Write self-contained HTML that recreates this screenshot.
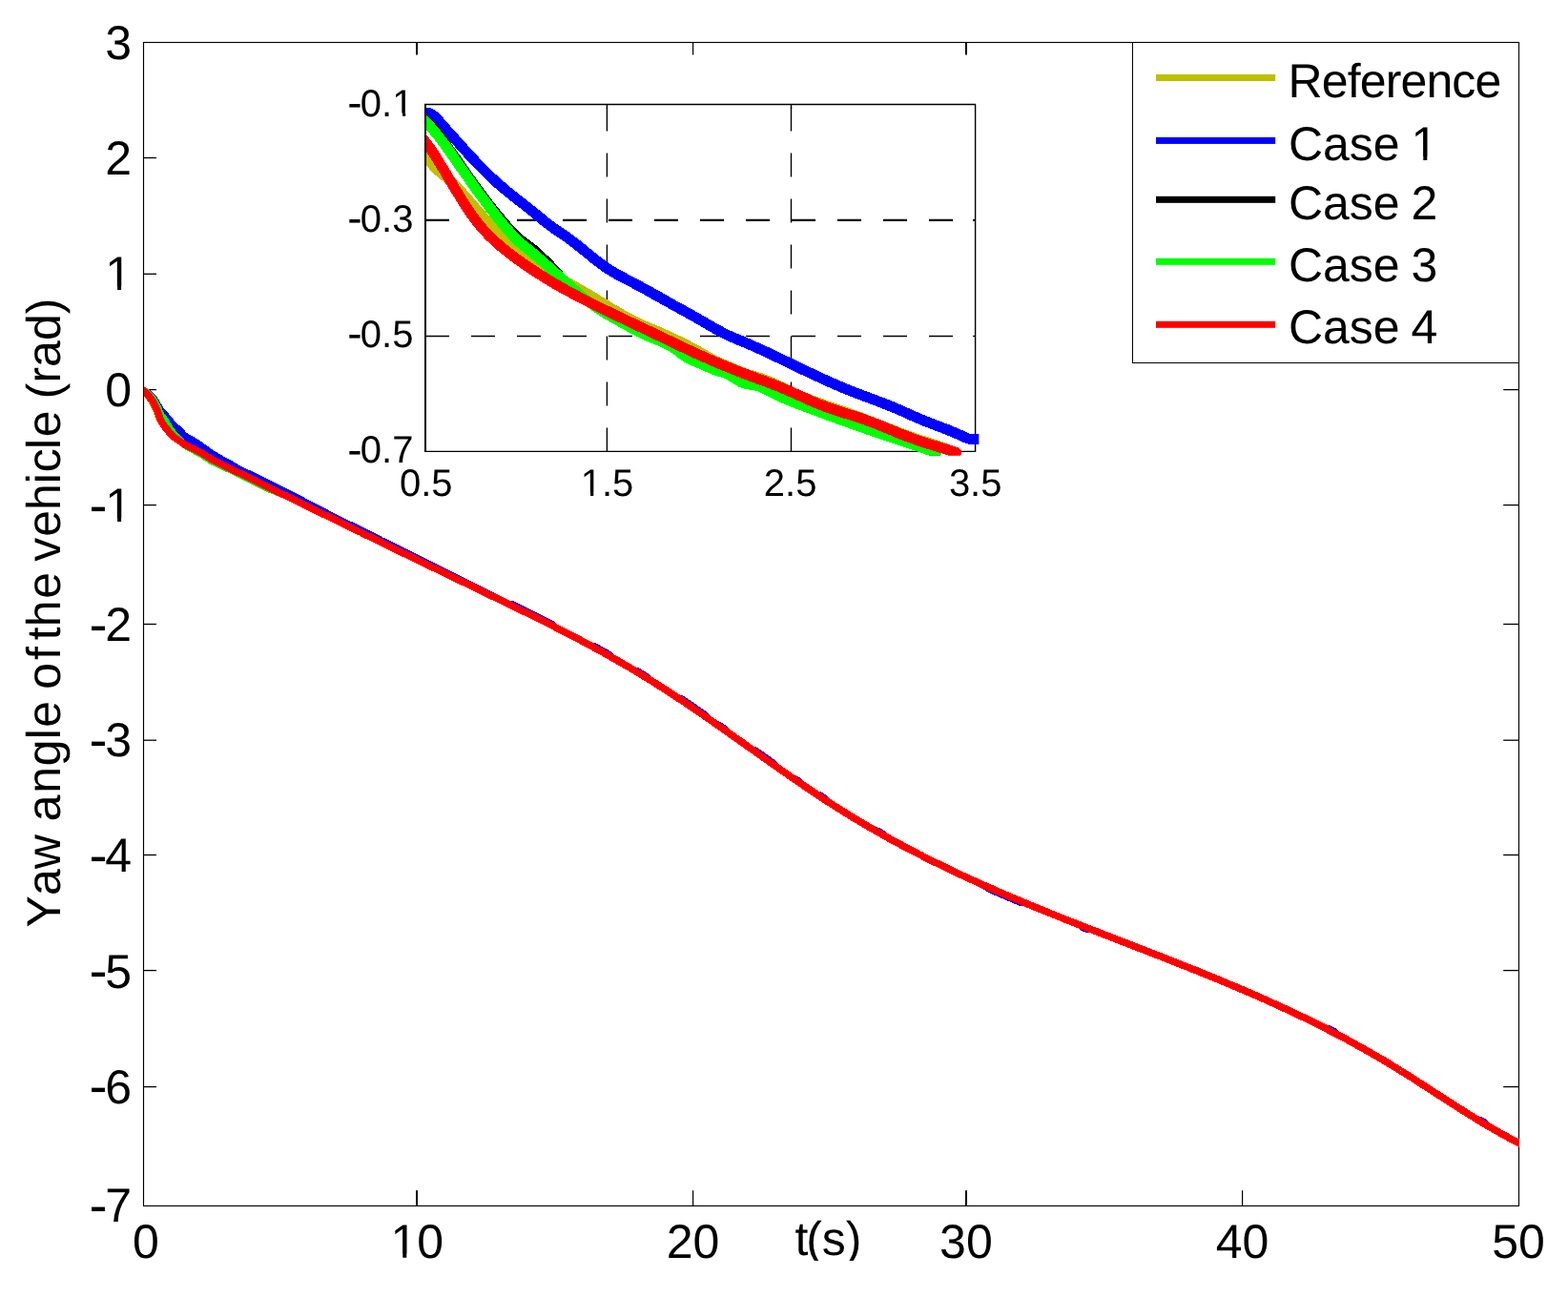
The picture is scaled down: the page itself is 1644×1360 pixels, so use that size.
<!DOCTYPE html>
<html lang="en">
<head>
<meta charset="utf-8">
<title>Yaw angle of the vehicle</title>
<style>
html,body{margin:0;padding:0;background:#fff;}
body{width:1644px;height:1360px;overflow:hidden;}
svg text{font-family:"Liberation Sans",Arial,Helvetica,sans-serif;font-kerning:none;font-variant-ligatures:none;text-rendering:geometricPrecision;}
</style>
</head>
<body>
<svg width="1644" height="1360" viewBox="0 0 1644 1360" style="display:block" font-family="'Liberation Sans', Arial, Helvetica, sans-serif" fill="#000">
<rect x="0" y="0" width="1644" height="1360" fill="#fff"/>
<defs><clipPath id="one1"><rect x="-489.71" y="204.00" width="1200.00" height="96.11"/><rect x="-489.71" y="299.86" width="603.01" height="54.14"/><rect x="136.46" y="299.86" width="573.83" height="54.14"/><rect x="123.07" y="299.86" width="4.02" height="4.34"/><rect x="-489.71" y="304.60" width="1200.00" height="49.40"/></clipPath><clipPath id="one2"><rect x="-489.71" y="447.00" width="1200.00" height="96.11"/><rect x="-489.71" y="542.86" width="603.01" height="54.14"/><rect x="136.46" y="542.86" width="573.83" height="54.14"/><rect x="123.07" y="542.86" width="4.02" height="4.34"/><rect x="-489.71" y="547.60" width="1200.00" height="49.40"/></clipPath><clipPath id="one3"><rect x="-190.51" y="1218.60" width="1200.00" height="96.11"/><rect x="-190.51" y="1314.46" width="603.01" height="54.14"/><rect x="435.66" y="1314.46" width="573.83" height="54.14"/><rect x="422.27" y="1314.46" width="4.02" height="4.34"/><rect x="-190.51" y="1319.20" width="1200.00" height="49.40"/></clipPath><clipPath id="one4"><rect x="-188.38" y="40.40" width="1200.00" height="78.02"/><rect x="-188.38" y="118.17" width="602.29" height="44.03"/><rect x="433.02" y="118.17" width="578.60" height="44.03"/><rect x="422.03" y="118.17" width="3.19" height="3.63"/><rect x="-188.38" y="122.20" width="1200.00" height="40.00"/></clipPath><clipPath id="one5"><rect x="8.68" y="438.60" width="1200.00" height="78.02"/><rect x="8.68" y="516.37" width="602.29" height="44.03"/><rect x="630.08" y="516.37" width="578.60" height="44.03"/><rect x="619.09" y="516.37" width="3.19" height="3.63"/><rect x="8.68" y="520.40" width="1200.00" height="40.00"/></clipPath><clipPath id="one6"><rect x="879.52" y="67.90" width="1200.00" height="96.11"/><rect x="879.52" y="163.76" width="603.01" height="54.14"/><rect x="1505.68" y="163.76" width="573.83" height="54.14"/><rect x="1492.29" y="163.76" width="4.02" height="4.34"/><rect x="879.52" y="168.50" width="1200.00" height="49.40"/></clipPath></defs>
<g stroke="#000" stroke-width="1.15" fill="none">
<rect x="150.5" y="44.5" width="1442.0" height="1220.0"/>
<line x1="437.0" y1="1264.5" x2="437.0" y2="1248.2" stroke-width="2.0"/>
<line x1="437.0" y1="44.5" x2="437.0" y2="57.5" stroke-width="2.0"/>
<line x1="726.6" y1="1264.5" x2="726.6" y2="1248.2" stroke-width="1.2"/>
<line x1="726.6" y1="44.5" x2="726.6" y2="57.5" stroke-width="1.2"/>
<line x1="1013.0" y1="1264.5" x2="1013.0" y2="1248.2" stroke-width="2.0"/>
<line x1="1013.0" y1="44.5" x2="1013.0" y2="57.5" stroke-width="2.0"/>
<line x1="1302.6" y1="1264.5" x2="1302.6" y2="1248.2" stroke-width="1.2"/>
<line x1="1302.6" y1="44.5" x2="1302.6" y2="57.5" stroke-width="1.2"/>
<line x1="150.5" y1="165.5" x2="164.0" y2="165.5" stroke-width="1.3"/>
<line x1="1592.5" y1="165.5" x2="1576.2" y2="165.5" stroke-width="1.3"/>
<line x1="150.5" y1="287.3" x2="164.0" y2="287.3" stroke-width="1.3"/>
<line x1="1592.5" y1="287.3" x2="1576.2" y2="287.3" stroke-width="1.3"/>
<line x1="150.5" y1="408.6" x2="164.0" y2="408.6" stroke-width="1.3"/>
<line x1="1592.5" y1="408.6" x2="1576.2" y2="408.6" stroke-width="1.3"/>
<line x1="150.5" y1="529.6" x2="164.0" y2="529.6" stroke-width="1.3"/>
<line x1="1592.5" y1="529.6" x2="1576.2" y2="529.6" stroke-width="1.3"/>
<line x1="150.5" y1="654.5" x2="164.0" y2="654.5" stroke-width="1.3"/>
<line x1="1592.5" y1="654.5" x2="1576.2" y2="654.5" stroke-width="1.3"/>
<line x1="150.5" y1="776.2" x2="164.0" y2="776.2" stroke-width="1.3"/>
<line x1="1592.5" y1="776.2" x2="1576.2" y2="776.2" stroke-width="1.3"/>
<line x1="150.5" y1="896.5" x2="164.0" y2="896.5" stroke-width="1.3"/>
<line x1="1592.5" y1="896.5" x2="1576.2" y2="896.5" stroke-width="1.3"/>
<line x1="150.5" y1="1017.6" x2="164.0" y2="1017.6" stroke-width="1.3"/>
<line x1="1592.5" y1="1017.6" x2="1576.2" y2="1017.6" stroke-width="1.3"/>
<line x1="150.5" y1="1139.6" x2="164.0" y2="1139.6" stroke-width="1.3"/>
<line x1="1592.5" y1="1139.6" x2="1576.2" y2="1139.6" stroke-width="1.3"/>
</g>
<clipPath id="mclip"><rect x="151" y="40" width="1442" height="1230"/></clipPath>
<g fill="none" stroke-width="7.6" stroke-linejoin="round" stroke-linecap="butt" clip-path="url(#mclip)" shape-rendering="crispEdges">
<path d="M145.5,405.2 L150.5,409.6 L151.0,410.0 L151.5,410.5 L152.0,411.0 L152.5,411.6 L153.0,412.2 L153.5,412.8 L154.0,413.4 L154.5,414.1 L155.0,414.7 L155.5,415.4 L156.0,416.1 L156.5,416.9 L157.0,417.6 L157.5,418.4 L158.0,419.2 L158.5,420.0 L159.0,420.8 L159.5,421.7 L160.0,422.5 L160.5,423.5 L161.0,424.4 L161.5,425.4 L162.0,426.4 L162.5,427.5 L163.0,428.6 L163.5,429.7 L164.0,430.9 L164.5,432.1 L165.0,433.3 L165.5,434.8 L166.0,436.1 L166.5,437.3 L167.0,438.4 L167.5,439.3 L168.0,440.1 L168.5,440.7 L169.0,441.1 L169.5,441.6 L170.0,442.0 L170.5,442.5 L171.0,443.0 L171.5,443.5 L172.0,444.0 L172.5,444.5 L173.0,445.1 L173.5,445.7 L174.0,446.3 L174.5,446.9 L175.0,447.6 L175.5,448.2 L176.0,448.9 L176.5,449.5 L177.0,450.2 L177.5,450.9 L178.0,451.5 L178.5,452.1 L179.0,452.8 L179.5,453.4 L180.0,453.9 L180.5,454.5 L181.0,455.0 L181.5,455.5 L182.0,456.0 L182.5,456.4 L183.0,456.8 L183.5,457.2 L184.0,457.6 L184.5,457.9 L185.0,458.2 L185.5,458.6 L186.0,458.9 L186.5,459.3 L187.0,459.7 L187.5,460.0 L188.0,460.4 L188.5,460.8 L189.0,461.2 L189.5,461.6 L190.0,462.0 L190.5,462.3 L191.0,462.7 L191.5,463.1 L192.0,463.5 L192.5,464.0 L193.0,464.3 L193.5,464.7 L194.0,465.1 L194.5,465.5 L195.0,465.8 L195.5,466.2 L196.0,466.5 L196.5,466.8 L197.0,467.1 L197.5,467.4 L198.0,467.7 L198.5,467.9 L199.0,468.2 L199.5,468.4 L200.0,468.6 L200.5,468.8 L201.0,469.0 L201.5,469.2 L202.0,469.4 L202.5,469.6 L203.0,469.8 L203.5,470.0 L204.0,470.2 L204.5,470.5 L205.0,470.7 L205.5,471.0 L206.0,471.2 L206.5,471.5 L207.0,471.8 L207.5,472.1 L208.0,472.5 L208.5,472.8 L209.0,473.2 L209.5,473.5 L210.0,473.9 L210.5,474.2 L211.0,474.6 L211.5,474.9 L212.0,475.2 L212.5,475.5 L213.0,475.8 L213.5,476.1 L214.0,476.5 L214.5,476.8 L215.0,477.1 L215.5,477.4 L216.0,477.7 L216.5,478.0 L217.0,478.3 L217.5,478.5 L218.0,478.8 L218.5,479.1 L219.0,479.4 L219.5,479.8 L220.0,480.1 L220.5,480.5 L221.0,480.9 L221.5,481.2 L222.0,481.5 L222.5,481.9 M223.5,482.4 L224.0,482.7 L224.5,482.9 L225.0,483.1 L225.5,483.3 L226.0,483.6 L226.5,483.8 L227.0,484.0 L227.5,484.2 L228.0,484.5 L228.5,484.7 L229.0,484.9 L229.5,485.2 L230.0,485.4 L230.5,485.7 L231.0,486.0 L231.5,486.2 L232.0,486.5 L232.5,486.8 L233.0,487.0 L233.5,487.3 L234.0,487.6 L234.5,487.8 L235.0,488.1 L235.5,488.3 L236.0,488.6 L236.5,488.8 L237.0,489.0 L237.5,489.3 L238.0,489.5 L238.5,489.7 L239.0,490.0 L239.5,490.2 L240.0,490.4 L240.5,490.7 L241.0,490.9 L241.5,491.1 L242.0,491.4 L242.5,491.6 L243.0,491.9 L243.5,492.1 L244.0,492.4 L244.5,492.6 L245.0,492.9 L245.5,493.1 L246.0,493.4 L246.5,493.7 L247.0,494.0 L247.5,494.3 L248.0,494.7 L248.5,495.1 L249.0,495.5 L249.5,495.9 L250.0,496.4 L250.5,496.9 L251.0,497.5 L251.5,497.7 L252.0,497.9 L252.5,498.2 L253.0,498.4 L253.5,498.6 L254.0,498.8 L254.5,499.0 L255.0,499.3 L255.5,499.5 L256.0,499.7 L256.5,499.9 L257.0,500.1 L257.5,500.3 L258.0,500.6 L258.5,500.8 L259.0,501.0 L259.5,501.2 L260.0,501.4 L262.7,502.6 L265.4,503.8 L268.1,505.0 L270.7,506.1 L273.4,507.3 L276.1,508.5 L278.8,509.7 L281.5,510.9 L284.2,512.2 L286.9,513.5" stroke="#bfbf00"/>
<path d="M145.5,408.2 L150.5,409.6 L151.0,409.7 L151.5,409.9 L152.0,410.1 L152.5,410.4 L153.0,410.6 L153.5,410.9 L154.0,411.3 L154.5,411.6 L155.0,412.0 L155.5,412.4 L156.0,412.8 L156.5,413.2 L157.0,413.6 L157.5,414.1 L158.0,414.6 L158.5,415.1 L159.0,415.6 L159.5,416.1 L160.0,416.7 L160.5,417.3 L161.0,418.0 L161.5,418.7 L162.0,419.4 L162.5,420.1 L163.0,420.9 L163.5,421.7 L164.0,422.6 L164.5,423.5 L165.0,424.4 L165.5,424.9 L166.0,425.7 L166.5,426.7 L167.0,427.8 L167.5,428.9 L168.0,429.8 L168.5,430.6 L169.0,431.2 L169.5,431.8 L170.0,432.3 L170.5,432.8 L171.0,433.3 L171.5,433.8 L172.0,434.2 L172.5,434.7 L173.0,435.2 L173.5,435.8 L174.0,436.3 L174.5,436.9 L175.0,437.5 L175.5,438.1 L176.0,438.7 L176.5,439.3 L177.0,439.9 L177.5,440.5 L178.0,441.1 L178.5,441.7 L179.0,442.3 L179.5,442.9 L180.0,443.5 L180.5,444.0 L181.0,444.6 L181.5,445.1 L182.0,445.7 L182.5,446.2 L183.0,446.7 L183.5,447.2 L184.0,447.7 L184.5,448.1 L185.0,448.5 L185.5,448.9 L186.0,449.3 L186.5,449.7 L187.0,450.2 L187.5,450.6 L188.0,451.1 L188.5,451.6 L189.0,452.2 L189.5,452.7 L190.0,453.2 L190.5,453.8 L191.0,454.3 L191.5,454.9 L192.0,455.4 L192.5,455.9 L193.0,456.4 L193.5,456.8 L194.0,457.2 L194.5,457.6 L195.0,457.9 L195.5,458.2 L196.0,458.6 L196.5,458.8 L197.0,459.1 L197.5,459.4 L198.0,459.7 L198.5,460.0 L199.0,460.3 L199.5,460.6 L200.0,460.8 L200.5,461.1 L201.0,461.4 L201.5,461.7 L202.0,462.0 L202.5,462.3 L203.0,462.6 L203.5,462.9 L204.0,463.2 L204.5,463.4 L205.0,463.7 L205.5,464.0 L206.0,464.3 L206.5,464.6 L207.0,464.9 L207.5,465.3 L208.0,465.6 L208.5,465.9 L209.0,466.3 L209.5,466.7 L210.0,467.1 L210.5,467.4 L211.0,467.8 L211.5,468.2 L212.0,468.6 L212.5,468.9 L213.0,469.3 L213.5,469.6 L214.0,469.9 L214.5,470.2 L215.0,470.6 L215.5,470.9 L216.0,471.3 L216.5,471.7 L217.0,472.0 L217.5,472.4 L218.0,472.8 L218.5,473.1 L219.0,473.5 L219.5,473.9 L220.0,474.3 L220.5,474.6 L221.0,475.0 L221.5,475.3 L222.0,475.6 L222.5,475.9 L223.0,476.3 L223.5,476.5 L224.0,476.8 L224.5,477.1 L225.0,477.4 L225.5,477.7 L226.0,478.0 L226.5,478.3 L227.0,478.6 L227.5,478.8 L228.0,479.2 L228.5,479.5 L229.0,479.8 L229.5,480.1 L230.0,480.4 L230.5,480.7 L231.0,481.0 L231.5,481.3 L232.0,481.6 L232.5,481.9 L233.0,482.2 L233.5,482.5 L234.0,482.7 L234.5,483.0 L235.0,483.2 L235.5,483.5 L236.0,483.7 L236.5,483.9 L237.0,484.1 L237.5,484.4 L238.0,484.6 L238.5,484.9 L239.0,485.1 L239.5,485.4 L240.0,485.7 L240.5,486.0 L241.0,486.3 L241.5,486.6 L242.0,486.9 L242.5,487.2 L243.0,487.5 L243.5,487.8 L244.0,488.1 L244.5,488.4 L245.0,488.7 L245.5,488.9 L246.0,489.2 L246.5,489.5 L247.0,489.8 L247.5,490.2 L248.0,490.5 L248.5,490.8 L249.0,491.1 L249.5,491.5 L250.0,491.8 L250.5,492.0 L251.0,492.2 L251.5,492.4 L252.0,492.6 L252.5,492.9 L253.0,493.1 L253.5,493.3 L254.0,493.6 L254.5,493.8 L255.0,494.1 L255.5,494.3 L256.0,494.6 L256.5,494.8 L257.0,495.0 L257.5,495.3 L258.0,495.5 L258.5,495.8 L259.0,496.0 L259.5,496.3 L260.0,496.5 L262.7,497.8 L265.4,499.1 L268.1,500.4 L270.7,501.7 L273.4,503.0 L276.1,504.3 L278.8,505.6 L281.5,506.9 L284.2,508.2 L286.9,509.6 L289.5,510.9 L292.2,512.2 L294.9,513.5 L297.6,514.9 L300.3,516.3 L303.0,517.7 L305.7,519.1 L308.3,520.5 L311.0,521.9 L313.7,523.3 L316.4,524.7 L319.1,526.1 L321.8,527.5 L324.4,528.9 L327.1,530.3 L329.8,531.7 L332.5,533.1 L335.2,534.5 L337.9,535.8 L340.6,537.2 L343.2,538.6 L345.9,540.0 L348.6,541.3 L351.3,542.7 L354.0,544.1 L356.7,545.4 L359.4,546.7 L362.0,548.1 L364.7,549.4 L367.4,550.7 L370.1,552.0 L372.8,553.4 L375.5,554.7 L378.2,556.0 L380.8,557.4 L383.5,558.7 L386.2,560.0 L388.9,561.4 L391.6,562.7 L394.3,564.1 L397.0,565.4 L399.6,566.8 L402.3,568.1 L405.0,569.5 L407.7,570.8 L410.4,572.2 L413.1,573.5 L415.8,574.8 L418.4,576.2 L421.1,577.5 L423.8,578.9 L426.5,580.2 L429.2,581.5 L431.9,582.8 L434.5,584.2 L437.2,585.5 L439.9,586.8 L442.6,588.1 L445.3,589.5 L448.0,590.8 L450.7,592.1 L453.3,593.4 L456.0,594.7 L458.7,596.1 L461.4,597.4 L464.1,598.7 L466.8,600.0 L469.5,601.4 L472.1,602.7 L474.8,604.1 L477.5,605.5 L480.2,606.8 L482.9,608.2 L485.6,609.5 L488.3,610.9 L490.9,612.3 L493.6,613.6 L496.3,615.0 L499.0,616.3 L501.7,617.7 L504.4,619.0 L507.1,620.4 L509.7,621.7 L512.4,623.0 L515.1,624.4 L517.8,625.7 L520.5,627.1 L523.2,628.4 L525.9,629.8 L528.5,631.1 L531.2,632.4 L533.9,633.7 L536.6,633.7 L539.3,635.0 L542.0,636.3 L544.6,637.6 L547.3,638.9 L550.0,640.2 L552.7,641.5 L555.4,642.9 L558.1,644.2 L560.8,645.5 L563.4,646.9 L566.1,648.2 L568.8,649.5 L571.5,650.9 L574.2,652.2 L576.9,653.6 L579.6,655.0 L582.2,657.6 L584.9,659.0 L587.6,660.4 M614.5,674.4 L617.2,675.9 L619.8,677.3 L622.5,677.6 L625.2,679.0 L627.9,680.5 L630.6,682.0 L633.3,683.5 L636.0,685.0 L638.6,686.5 L641.3,689.2 L644.0,690.7 L646.7,692.2 M660.1,700.0 L662.8,701.6 L665.5,703.2 L668.2,703.8 L670.9,705.4 L673.5,707.1 L676.2,708.7 L678.9,710.4 L681.6,713.0 L684.3,714.7 L687.0,716.4 M705.8,728.5 L708.5,730.3 L711.1,732.1 L713.8,732.5 L716.5,734.3 L719.2,736.1 L721.9,738.0 L724.6,739.8 L727.3,741.6 L729.9,743.5 L732.6,745.3 L735.3,747.1 L738.0,749.0 L740.7,752.2 L743.4,754.0 L746.1,755.9 L748.7,757.8 L751.4,759.7 L754.1,760.5 L756.8,762.4 L759.5,764.3 L762.2,767.2 L764.8,769.1 L767.5,771.0 M783.6,782.4 L786.3,784.3 L789.0,786.2 L791.7,786.9 L794.4,788.8 L797.1,790.7 L799.8,792.6 L802.4,794.5 L805.1,796.4 L807.8,798.3 L810.5,800.2 L813.2,803.3 L815.9,805.2 L818.6,807.1 M826.6,812.7 L829.3,814.6 L832.0,816.4 L834.7,817.3 L837.4,819.1 L840.0,821.9 L842.7,823.8 L845.4,825.6 M850.8,829.2 L853.5,831.0 L856.2,832.8 L858.8,833.6 L861.5,835.3 L864.2,837.1 L866.9,839.9 L869.6,841.6 L872.3,843.3 M912.5,867.9 L915.2,869.5 L917.9,871.0 L920.6,871.6 L923.3,873.1 L926.0,874.6 L928.7,877.1 L931.3,878.6 L934.0,880.1 M1028.0,926.7 L1030.7,927.9 L1033.4,929.1 L1036.1,931.6 L1038.8,932.7 L1041.4,933.9 L1044.1,935.1 L1046.8,936.3 L1049.5,937.4 L1052.2,938.6 L1054.9,939.7 L1057.6,940.9 L1060.2,942.0 L1062.9,943.2 L1065.6,944.3 L1068.3,945.4 L1071.0,946.6 L1073.7,946.4 L1076.4,947.5 L1079.0,948.6 M1127.4,968.1 L1130.1,969.2 L1132.7,970.2 L1135.4,972.5 L1138.1,973.5 L1140.8,974.6 L1143.5,974.4 L1146.2,975.5 L1148.9,976.5 M1385.2,1076.0 L1387.9,1077.3 L1390.5,1078.7 L1393.2,1078.9 L1395.9,1080.3 L1398.6,1081.7 L1401.3,1084.3 L1404.0,1085.7 L1406.7,1087.1 M1543.6,1170.7 L1546.3,1172.3 L1549.0,1174.0 L1551.7,1174.4 L1554.3,1176.0 L1557.0,1177.6 L1559.7,1180.4 L1562.4,1182.0 L1565.1,1183.6" stroke="#0000ff"/>
<path d="M145.5,407.6 L150.5,409.6 L151.0,409.8 L151.5,410.0 L152.0,410.3 L152.5,410.6 L153.0,410.9 L153.5,411.3 L154.0,411.7 L154.5,412.1 L155.0,412.5 L155.5,413.0 L156.0,413.4 L156.5,413.9 L157.0,414.4 L157.5,414.9 L158.0,415.5 L158.5,416.0 L159.0,416.6 L159.5,417.2 L160.0,417.8 L160.5,418.5 L161.0,419.2 L161.5,420.0 L162.0,420.7 L162.5,421.6 L163.0,422.4 L163.5,423.3 L164.0,424.2 L164.5,425.1 L165.0,426.1 L165.5,427.2 L166.0,428.3 L166.5,429.6 L167.0,430.8 L167.5,432.0 L168.0,433.1 L168.5,434.1 L169.0,434.9 L169.5,435.7 L170.0,436.4 L170.5,437.1 L171.0,437.8 L171.5,438.5 L172.0,439.2 L172.5,439.9 L173.0,440.6 L173.5,441.4 L174.0,442.1 L174.5,442.9 L175.0,443.7 L175.5,444.5 L176.0,445.4 L176.5,446.2 L177.0,447.0 L177.5,447.9 L178.0,448.7 L178.5,449.5 L179.0,450.2 L179.5,450.9 L180.0,451.5 L180.5,452.1 L181.0,452.6 L181.5,453.1 L182.0,453.6 L182.5,454.2 L183.0,454.8 L183.5,455.4 L184.0,455.9 L184.5,456.5 L185.0,457.2 L185.5,457.9 L186.0,458.6 L186.5,459.3 L187.0,459.9 L187.5,460.5 L188.0,461.0 L188.5,461.6 L189.0,462.2 L189.5,462.7 L190.0,463.3 L190.5,463.8 L191.0,464.3 L191.5,464.8 L192.0,465.3 L192.5,465.7 L193.0,466.1 L193.5,466.5 L194.0,466.9 L194.5,467.2 L195.0,467.6 L195.5,467.9 L196.0,468.2 L196.5,468.5 L197.0,468.8 L197.5,469.1 L198.0,469.4 L198.5,469.7 L199.0,470.0 L199.5,470.2 L200.0,470.4 L200.5,470.6 L201.0,470.8 L201.5,471.0 L202.0,471.1 L202.5,471.4 L203.0,471.6 L203.5,471.9 L204.0,472.2 L204.5,472.6 L205.0,473.0 L205.5,473.4 L206.0,473.8 L206.5,474.1 L207.0,474.4 L207.5,474.6 L208.0,474.8 L208.5,475.0 L209.0,475.3 L209.5,475.6 L210.0,475.9 L210.5,476.2 L211.0,476.4 L211.5,476.6 L212.0,476.9 L212.5,477.2 L213.0,477.6 L213.5,478.0 L214.0,478.5 L214.5,478.9 L215.0,479.3 L215.5,479.5 L216.0,479.7 L216.5,479.9 L217.0,480.1 L217.5,480.3 L218.0,480.7 L218.5,481.1 L219.0,481.5 L219.5,481.9 L220.0,482.3 L220.5,482.7 L221.0,483.0 L221.5,483.3 L222.0,483.6 L222.5,483.8 L223.0,484.1 L223.5,484.3 L224.0,484.5 L224.5,484.7 L225.0,485.0 L225.5,485.2 L226.0,485.4 L226.5,485.6 L227.0,485.8 L227.5,486.1 L228.0,486.3 L228.5,486.6 L229.0,486.8 L229.5,487.1 L230.0,487.4 L230.5,487.6 L231.0,487.9 L231.5,488.2 L232.0,488.5 L232.5,488.7 L233.0,489.0 L233.5,489.2 L234.0,489.5 L234.5,489.7 L235.0,489.9 L235.5,490.1 L236.0,490.4 L236.5,490.6 L237.0,490.8 L237.5,491.0 L238.0,491.2 L238.5,491.4 L239.0,491.6 L239.5,491.8 L240.0,492.0 L240.5,492.2 L241.0,492.4 L241.5,492.6 L242.0,492.9 L242.5,493.1 L243.0,493.3 L243.5,493.6 L244.0,493.9 L244.5,494.1 L245.0,494.4 L245.5,494.6 L246.0,494.9 L246.5,495.2 L247.0,495.4 L247.5,495.7 L248.0,495.9 L248.5,496.2 L249.0,496.5 L249.5,496.7 L250.0,497.0 L250.5,497.2 L251.0,497.4 L251.5,497.7 L252.0,497.9 L252.5,498.1 L253.0,498.3 L253.5,498.5 L254.0,498.7 L254.5,499.0 L255.0,499.2 L255.5,499.4 L256.0,499.6 L256.5,499.8 L257.0,500.1 L257.5,500.3 L258.0,500.5 L258.5,500.7 L259.0,500.9 L259.5,501.2 L260.0,501.4 L262.7,502.6 L265.4,503.7 L268.1,504.9 L270.7,506.1 L273.4,507.3 L276.1,508.5 L278.8,509.7 L281.5,510.9 L284.2,512.2 L286.9,513.5" stroke="#000000"/>
<path d="M145.5,407.5 L150.5,409.6 L151.0,409.8 L151.5,410.0 L152.0,410.3 L152.5,410.6 L153.0,411.0 L153.5,411.4 L154.0,411.8 L154.5,412.2 L155.0,412.6 L155.5,413.1 L156.0,413.5 L156.5,414.0 L157.0,414.5 L157.5,415.1 L158.0,415.6 L158.5,416.2 L159.0,416.8 L159.5,417.4 L160.0,418.0 L160.5,418.7 L161.0,419.4 L161.5,420.2 L162.0,421.0 L162.5,421.8 L163.0,422.7 L163.5,423.6 L164.0,424.5 L164.5,425.4 L165.0,426.4 L165.5,427.5 L166.0,428.6 L166.5,429.9 L167.0,431.1 L167.5,432.3 L168.0,433.4 L168.5,434.4 L169.0,435.2 L169.5,436.0 L170.0,436.7 L170.5,437.4 L171.0,438.1 L171.5,438.8 L172.0,439.5 L172.5,440.2 L173.0,440.9 L173.5,441.7 L174.0,442.5 L174.5,443.3 L175.0,444.1 L175.5,444.9 L176.0,445.8 L176.5,446.7 L177.0,447.5 L177.5,448.4 L178.0,449.2 L178.5,450.1 L179.0,450.8 L179.5,451.6 L180.0,452.2 L180.5,452.8 L181.0,453.3 L181.5,453.9 L182.0,454.4 L182.5,455.0 L183.0,455.5 L183.5,456.0 L184.0,456.5 L184.5,457.1 L185.0,457.6 L185.5,458.1 L186.0,458.7 L186.5,459.3 L187.0,459.9 L187.5,460.5 L188.0,461.0 L188.5,461.6 L189.0,462.2 L189.5,462.7 L190.0,463.3 L190.5,463.8 L191.0,464.3 L191.5,464.8 L192.0,465.3 L192.5,465.7 L193.0,466.1 L193.5,466.5 L194.0,466.9 L194.5,467.2 L195.0,467.6 L195.5,467.9 L196.0,468.2 L196.5,468.5 L197.0,468.8 L197.5,469.1 L198.0,469.4 L198.5,469.7 L199.0,470.0 L199.5,470.2 L200.0,470.4 L200.5,470.6 L201.0,470.8 L201.5,471.0 L202.0,471.1 L202.5,471.4 L203.0,471.6 L203.5,471.9 L204.0,472.2 L204.5,472.6 L205.0,473.0 L205.5,473.4 L206.0,473.8 L206.5,474.1 L207.0,474.4 L207.5,474.6 L208.0,474.8 L208.5,475.0 L209.0,475.3 L209.5,475.6 L210.0,475.9 L210.5,476.2 L211.0,476.4 L211.5,476.6 L212.0,476.9 L212.5,477.2 L213.0,477.6 L213.5,478.0 L214.0,478.5 L214.5,478.9 L215.0,479.3 L215.5,479.5 L216.0,479.7 L216.5,479.9 L217.0,480.1 L217.5,480.3 L218.0,480.7 L218.5,481.1 L219.0,481.5 L219.5,481.9 L220.0,482.3 L220.5,482.7 L221.0,483.0 L221.5,483.3 L222.0,483.6 L222.5,483.8 L223.0,484.1 L223.5,484.3 L224.0,484.5 L224.5,484.7 L225.0,485.0 L225.5,485.2 L226.0,485.4 L226.5,485.6 L227.0,485.8 L227.5,486.1 L228.0,486.3 L228.5,486.6 L229.0,486.8 L229.5,487.1 L230.0,487.4 L230.5,487.6 L231.0,487.9 L231.5,488.2 L232.0,488.5 L232.5,488.7 L233.0,489.0 L233.5,489.2 L234.0,489.5 L234.5,489.7 L235.0,489.9 L235.5,490.1 L236.0,490.4 L236.5,490.6 L237.0,490.8 L237.5,491.0 L238.0,491.2 L238.5,491.4 L239.0,491.6 L239.5,491.8 L240.0,492.0 L240.5,492.2 L241.0,492.4 L241.5,492.6 L242.0,492.9 L242.5,493.1 L243.0,493.3 L243.5,493.6 L244.0,493.9 L244.5,494.1 L245.0,494.4 L245.5,494.6 L246.0,494.9 L246.5,495.2 L247.0,495.4 L247.5,495.7 L248.0,495.9 L248.5,496.2 L249.0,496.5 L249.5,496.7 L250.0,497.0 L250.5,497.2 L251.0,497.4 L251.5,497.7 L252.0,497.9 L252.5,498.1 L253.0,498.4 L253.5,498.6 L254.0,498.9 L254.5,499.1 L255.0,499.4 L255.5,499.6 L256.0,499.9 L256.5,500.1 L257.0,500.4 L257.5,500.6 L258.0,500.8 L258.5,501.1 L259.0,501.3 L259.5,501.6 L260.0,501.8 L262.7,503.1 L265.4,504.5 L268.1,505.8 L270.7,507.1 L273.4,508.4 L276.1,509.8 L278.8,511.1 L281.5,512.4 L284.2,513.6 L286.9,514.5 L289.5,515.5 L292.2,516.5 L294.9,517.5 L297.6,518.8 L300.3,520.1" stroke="#00ff00"/>
<path d="M145.5,406.0 L150.5,409.6 L151.0,410.0 L151.5,410.3 L152.0,410.8 L152.5,411.3 L153.0,411.7 L153.5,412.3 L154.0,412.8 L154.5,413.4 L155.0,414.0 L155.5,414.6 L156.0,415.2 L156.5,415.8 L157.0,416.5 L157.5,417.2 L158.0,417.9 L158.5,418.6 L159.0,419.3 L159.5,420.1 L160.0,420.9 L160.5,421.7 L161.0,422.6 L161.5,423.5 L162.0,424.4 L162.5,425.4 L163.0,426.4 L163.5,427.5 L164.0,428.5 L164.5,429.6 L165.0,430.8 L165.5,432.0 L166.0,433.4 L166.5,434.9 L167.0,436.4 L167.5,437.8 L168.0,439.1 L168.5,440.3 L169.0,441.3 L169.5,442.2 L170.0,443.1 L170.5,443.9 L171.0,444.7 L171.5,445.5 L172.0,446.2 L172.5,446.9 L173.0,447.6 L173.5,448.3 L174.0,448.9 L174.5,449.6 L175.0,450.2 L175.5,450.8 L176.0,451.4 L176.5,452.1 L177.0,452.7 L177.5,453.3 L178.0,453.9 L178.5,454.4 L179.0,455.0 L179.5,455.5 L180.0,456.1 L180.5,456.6 L181.0,457.1 L181.5,457.5 L182.0,458.0 L182.5,458.4 L183.0,458.8 L183.5,459.1 L184.0,459.5 L184.5,459.8 L185.0,460.1 L185.5,460.4 L186.0,460.8 L186.5,461.1 L187.0,461.5 L187.5,461.8 L188.0,462.2 L188.5,462.5 L189.0,462.9 L189.5,463.2 L190.0,463.6 L190.5,463.9 L191.0,464.2 L191.5,464.6 L192.0,464.9 L192.5,465.2 L193.0,465.5 L193.5,465.8 L194.0,466.1 L194.5,466.4 L195.0,466.7 L195.5,467.0 L196.0,467.2 L196.5,467.5 L197.0,467.8 L197.5,468.0 L198.0,468.3 L198.5,468.5 L199.0,468.8 L199.5,469.0 L200.0,469.2 L200.5,469.5 L201.0,469.7 L201.5,469.9 L202.0,470.2 L202.5,470.4 L203.0,470.6 L203.5,470.9 L204.0,471.1 L204.5,471.3 L205.0,471.6 L205.5,471.8 L206.0,472.1 L206.5,472.3 L207.0,472.6 L207.5,472.8 L208.0,473.1 L208.5,473.3 L209.0,473.6 L209.5,473.9 L210.0,474.2 L210.5,474.5 L211.0,474.8 L211.5,475.1 L212.0,475.4 L212.5,475.7 L213.0,476.0 L213.5,476.3 L214.0,476.6 L214.5,476.9 L215.0,477.2 L215.5,477.5 L216.0,477.9 L216.5,478.2 L217.0,478.5 L217.5,478.8 L218.0,479.1 L218.5,479.4 L219.0,479.7 L219.5,480.1 L220.0,480.4 L220.5,480.7 L221.0,481.0 L221.5,481.3 L222.0,481.6 L222.5,481.8 L223.0,482.1 L223.5,482.4 L224.0,482.7 L224.5,482.9 L225.0,483.2 L225.5,483.5 L226.0,483.7 L226.5,484.0 L227.0,484.2 L227.5,484.5 L228.0,484.7 L228.5,485.0 L229.0,485.2 L229.5,485.5 L230.0,485.7 L230.5,486.0 L231.0,486.2 L231.5,486.4 L232.0,486.7 L232.5,486.9 L233.0,487.2 L233.5,487.4 L234.0,487.6 L234.5,487.9 L235.0,488.1 L235.5,488.4 L236.0,488.6 L236.5,488.9 L237.0,489.1 L237.5,489.4 L238.0,489.6 L238.5,489.9 L239.0,490.1 L239.5,490.4 L240.0,490.6 L240.5,490.8 L241.0,491.1 L241.5,491.3 L242.0,491.6 L242.5,491.8 L243.0,492.1 L243.5,492.3 L244.0,492.6 L244.5,492.8 L245.0,493.1 L245.5,493.3 L246.0,493.6 L246.5,493.8 L247.0,494.1 L247.5,494.3 L248.0,494.5 L248.5,494.8 L249.0,495.0 L249.5,495.3 L250.0,495.5 L250.5,495.8 L251.0,496.0 L251.5,496.2 L252.0,496.5 L252.5,496.7 L253.0,497.0 L253.5,497.2 L254.0,497.4 L254.5,497.7 L255.0,497.9 L255.5,498.2 L256.0,498.4 L256.5,498.7 L257.0,498.9 L257.5,499.2 L258.0,499.4 L258.5,499.6 L259.0,499.9 L259.5,500.1 L260.0,500.4 L262.7,501.7 L265.4,503.0 L268.1,504.3 L270.7,505.6 L273.4,507.0 L276.1,508.3 L278.8,509.6 L281.5,510.9 L284.2,512.2 L286.9,513.5 L289.5,514.8 L292.2,516.2 L294.9,517.5 L297.6,518.8 L300.3,520.1 L303.0,521.4 L305.7,522.7 L308.3,524.0 L311.0,525.3 L313.7,526.7 L316.4,528.0 L319.1,529.3 L321.8,530.6 L324.4,531.9 L327.1,533.2 L329.8,534.5 L332.5,535.9 L335.2,537.2 L337.9,538.5 L340.6,539.8 L343.2,541.1 L345.9,542.4 L348.6,543.7 L351.3,545.0 L354.0,546.4 L356.7,547.7 L359.4,549.0 L362.0,550.3 L364.7,551.6 L367.4,552.9 L370.1,554.2 L372.8,555.5 L375.5,556.8 L378.2,558.1 L380.8,559.5 L383.5,560.8 L386.2,562.1 L388.9,563.4 L391.6,564.7 L394.3,566.0 L397.0,567.3 L399.6,568.6 L402.3,569.9 L405.0,571.2 L407.7,572.5 L410.4,573.9 L413.1,575.2 L415.8,576.5 L418.4,577.8 L421.1,579.1 L423.8,580.4 L426.5,581.7 L429.2,583.0 L431.9,584.3 L434.5,585.6 L437.2,586.9 L439.9,588.2 L442.6,589.5 L445.3,590.8 L448.0,592.1 L450.7,593.4 L453.3,594.7 L456.0,596.0 L458.7,597.3 L461.4,598.6 L464.1,599.9 L466.8,601.2 L469.5,602.5 L472.1,603.8 L474.8,605.1 L477.5,606.4 L480.2,607.7 L482.9,609.0 L485.6,610.3 L488.3,611.6 L490.9,612.9 L493.6,614.2 L496.3,615.5 L499.0,616.8 L501.7,618.1 L504.4,619.4 L507.1,620.7 L509.7,622.0 L512.4,623.3 L515.1,624.6 L517.8,625.9 L520.5,627.2 L523.2,628.5 L525.9,629.8 L528.5,631.1 L531.2,632.4 L533.9,633.7 L536.6,635.0 L539.3,636.3 L542.0,637.6 L544.6,638.9 L547.3,640.2 L550.0,641.5 L552.7,642.8 L555.4,644.2 L558.1,645.5 L560.8,646.8 L563.4,648.2 L566.1,649.5 L568.8,650.8 L571.5,652.2 L574.2,653.5 L576.9,654.9 L579.6,656.3 L582.2,657.6 L584.9,659.0 L587.6,660.4 L590.3,661.7 L593.0,663.1 L595.7,664.5 L598.4,665.9 L601.0,667.3 L603.7,668.7 L606.4,670.1 L609.1,671.6 L611.8,673.0 L614.5,674.4 L617.2,675.9 L619.8,677.3 L622.5,678.8 L625.2,680.2 L627.9,681.7 L630.6,683.2 L633.3,684.7 L636.0,686.2 L638.6,687.7 L641.3,689.2 L644.0,690.7 L646.7,692.2 L649.4,693.8 L652.1,695.3 L654.7,696.9 L657.4,698.5 L660.1,700.0 L662.8,701.6 L665.5,703.2 L668.2,704.8 L670.9,706.4 L673.5,708.1 L676.2,709.7 L678.9,711.4 L681.6,713.0 L684.3,714.7 L687.0,716.4 L689.7,718.1 L692.3,719.8 L695.0,721.5 L697.7,723.2 L700.4,725.0 L703.1,726.7 L705.8,728.5 L708.5,730.3 L711.1,732.1 L713.8,733.8 L716.5,735.6 L719.2,737.4 L721.9,739.3 L724.6,741.1 L727.3,742.9 L729.9,744.8 L732.6,746.6 L735.3,748.4 L738.0,750.3 L740.7,752.2 L743.4,754.0 L746.1,755.9 L748.7,757.8 L751.4,759.7 L754.1,761.5 L756.8,763.4 L759.5,765.3 L762.2,767.2 L764.8,769.1 L767.5,771.0 L770.2,772.9 L772.9,774.8 L775.6,776.7 L778.3,778.6 L781.0,780.5 L783.6,782.4 L786.3,784.3 L789.0,786.2 L791.7,788.1 L794.4,790.0 L797.1,791.9 L799.8,793.8 L802.4,795.7 L805.1,797.6 L807.8,799.5 L810.5,801.4 L813.2,803.3 L815.9,805.2 L818.6,807.1 L821.2,809.0 L823.9,810.8 L826.6,812.7 L829.3,814.6 L832.0,816.4 L834.7,818.3 L837.4,820.1 L840.0,821.9 L842.7,823.8 L845.4,825.6 L848.1,827.4 L850.8,829.2 L853.5,831.0 L856.2,832.8 L858.8,834.6 L861.5,836.3 L864.2,838.1 L866.9,839.9 L869.6,841.6 L872.3,843.3 L874.9,845.0 L877.6,846.8 L880.3,848.4 L883.0,850.1 L885.7,851.8 L888.4,853.5 L891.1,855.1 L893.7,856.8 L896.4,858.4 L899.1,860.0 L901.8,861.6 L904.5,863.2 L907.2,864.8 L909.9,866.4 L912.5,867.9 L915.2,869.5 L917.9,871.0 L920.6,872.6 L923.3,874.1 L926.0,875.6 L928.7,877.1 L931.3,878.6 L934.0,880.1 L936.7,881.5 L939.4,883.0 L942.1,884.5 L944.8,885.9 L947.5,887.3 L950.1,888.8 L952.8,890.2 L955.5,891.6 L958.2,893.0 L960.9,894.4 L963.6,895.8 L966.3,897.1 L968.9,898.5 L971.6,899.9 L974.3,901.2 L977.0,902.6 L979.7,903.9 L982.4,905.2 L985.1,906.5 L987.7,907.8 L990.4,909.1 L993.1,910.4 L995.8,911.7 L998.5,913.0 L1001.2,914.3 L1003.8,915.5 L1006.5,916.8 L1009.2,918.1 L1011.9,919.3 L1014.6,920.6 L1017.3,921.8 L1020.0,923.0 L1022.6,924.2 L1025.3,925.4 L1028.0,926.7 L1030.7,927.9 L1033.4,929.1 L1036.1,930.3 L1038.8,931.4 L1041.4,932.6 L1044.1,933.8 L1046.8,935.0 L1049.5,936.1 L1052.2,937.3 L1054.9,938.4 L1057.6,939.6 L1060.2,940.7 L1062.9,941.9 L1065.6,943.0 L1068.3,944.1 L1071.0,945.3 L1073.7,946.4 L1076.4,947.5 L1079.0,948.6 L1081.7,949.7 L1084.4,950.8 L1087.1,951.9 L1089.8,953.0 L1092.5,954.1 L1095.2,955.2 L1097.8,956.3 L1100.5,957.4 L1103.2,958.5 L1105.9,959.6 L1108.6,960.6 L1111.3,961.7 L1113.9,962.8 L1116.6,963.9 L1119.3,964.9 L1122.0,966.0 L1124.7,967.1 L1127.4,968.1 L1130.1,969.2 L1132.7,970.2 L1135.4,971.3 L1138.1,972.3 L1140.8,973.4 L1143.5,974.4 L1146.2,975.5 L1148.9,976.5 L1151.5,977.6 L1154.2,978.6 L1156.9,979.7 L1159.6,980.7 L1162.3,981.7 L1165.0,982.8 L1167.7,983.8 L1170.3,984.9 L1173.0,985.9 L1175.7,986.9 L1178.4,988.0 L1181.1,989.0 L1183.8,990.1 L1186.5,991.1 L1189.1,992.1 L1191.8,993.2 L1194.5,994.2 L1197.2,995.3 L1199.9,996.3 L1202.6,997.3 L1205.3,998.4 L1207.9,999.4 L1210.6,1000.5 L1213.3,1001.5 L1216.0,1002.6 L1218.7,1003.6 L1221.4,1004.7 L1224.0,1005.7 L1226.7,1006.8 L1229.4,1007.8 L1232.1,1008.9 L1234.8,1010.0 L1237.5,1011.0 L1240.2,1012.1 L1242.8,1013.1 L1245.5,1014.2 L1248.2,1015.3 L1250.9,1016.4 L1253.6,1017.4 L1256.3,1018.5 L1259.0,1019.6 L1261.6,1020.7 L1264.3,1021.8 L1267.0,1022.9 L1269.7,1024.0 L1272.4,1025.1 L1275.1,1026.2 L1277.8,1027.3 L1280.4,1028.4 L1283.1,1029.5 L1285.8,1030.6 L1288.5,1031.8 L1291.2,1032.9 L1293.9,1034.0 L1296.6,1035.1 L1299.2,1036.3 L1301.9,1037.4 L1304.6,1038.6 L1307.3,1039.7 L1310.0,1040.9 L1312.7,1042.1 L1315.4,1043.2 L1318.0,1044.4 L1320.7,1045.6 L1323.4,1046.8 L1326.1,1048.0 L1328.8,1049.2 L1331.5,1050.4 L1334.1,1051.6 L1336.8,1052.8 L1339.5,1054.1 L1342.2,1055.3 L1344.9,1056.5 L1347.6,1057.8 L1350.3,1059.0 L1352.9,1060.3 L1355.6,1061.6 L1358.3,1062.8 L1361.0,1064.1 L1363.7,1065.4 L1366.4,1066.7 L1369.1,1068.0 L1371.7,1069.3 L1374.4,1070.6 L1377.1,1072.0 L1379.8,1073.3 L1382.5,1074.6 L1385.2,1076.0 L1387.9,1077.3 L1390.5,1078.7 L1393.2,1080.1 L1395.9,1081.5 L1398.6,1082.9 L1401.3,1084.3 L1404.0,1085.7 L1406.7,1087.1 L1409.3,1088.5 L1412.0,1090.0 L1414.7,1091.4 L1417.4,1092.9 L1420.1,1094.4 L1422.8,1095.9 L1425.5,1097.3 L1428.1,1098.8 L1430.8,1100.4 L1433.5,1101.9 L1436.2,1103.4 L1438.9,1105.0 L1441.6,1106.5 L1444.2,1108.1 L1446.9,1109.6 L1449.6,1111.2 L1452.3,1112.8 L1455.0,1114.4 L1457.7,1116.1 L1460.4,1117.7 L1463.0,1119.3 L1465.7,1121.0 L1468.4,1122.7 L1471.1,1124.3 L1473.8,1126.0 L1476.5,1127.7 L1479.2,1129.4 L1481.8,1131.1 L1484.5,1132.8 L1487.2,1134.6 L1489.9,1136.3 L1492.6,1138.0 L1495.3,1139.7 L1498.0,1141.5 L1500.6,1143.2 L1503.3,1145.0 L1506.0,1146.7 L1508.7,1148.4 L1511.4,1150.2 L1514.1,1151.9 L1516.8,1153.6 L1519.4,1155.4 L1522.1,1157.1 L1524.8,1158.8 L1527.5,1160.5 L1530.2,1162.2 L1532.9,1163.9 L1535.6,1165.6 L1538.2,1167.3 L1540.9,1169.0 L1543.6,1170.7 L1546.3,1172.3 L1549.0,1174.0 L1551.7,1175.6 L1554.3,1177.2 L1557.0,1178.8 L1559.7,1180.4 L1562.4,1182.0 L1565.1,1183.6 L1567.8,1185.1 L1570.5,1186.6 L1573.1,1188.1 L1575.8,1189.6 L1578.5,1191.1 L1581.2,1192.6 L1583.9,1194.0 L1586.6,1195.4 L1589.3,1196.8 L1591.9,1198.1 L1594.6,1199.5 L1597.3,1200.8 L1600.0,1202.1" stroke="#ff0000"/>
</g>
<g font-size="50px">
<text x="110.29" y="61.5">3</text>
<text x="110.29" y="183.1">2</text>
<text x="110.29" y="304.0" clip-path="url(#one1)">1</text>
<text x="110.29" y="425.6">0</text>
<text x="93.54" y="547.0" clip-path="url(#one2)"><tspan font-size="57px" dy="1.86">-</tspan><tspan dx="-2.23" dy="-1.86">1</tspan></text>
<text x="93.54" y="672.0"><tspan font-size="57px" dy="1.86">-</tspan><tspan dx="-2.23" dy="-1.86">2</tspan></text>
<text x="93.54" y="792.8"><tspan font-size="57px" dy="1.86">-</tspan><tspan dx="-2.23" dy="-1.86">3</tspan></text>
<text x="93.54" y="914.0"><tspan font-size="57px" dy="1.86">-</tspan><tspan dx="-2.23" dy="-1.86">4</tspan></text>
<text x="93.54" y="1035.5"><tspan font-size="57px" dy="1.86">-</tspan><tspan dx="-2.23" dy="-1.86">5</tspan></text>
<text x="93.54" y="1156.5"><tspan font-size="57px" dy="1.86">-</tspan><tspan dx="-2.23" dy="-1.86">6</tspan></text>
<text x="93.54" y="1280.9"><tspan font-size="57px" dy="1.86">-</tspan><tspan dx="-2.23" dy="-1.86">7</tspan></text>
<text x="139.10" y="1318.6">0</text>
<text x="409.49" y="1318.6" clip-path="url(#one3)">10</text>
<text x="698.79" y="1318.6">20</text>
<text x="985.09" y="1318.6">30</text>
<text x="1274.79" y="1318.6">40</text>
<text x="1564.19" y="1318.6">50</text>
<clipPath id="tsclip"><rect x="820" y="1270" width="100" height="52"/></clipPath>
<text x="833.6" y="1315.9" clip-path="url(#tsclip)">t<tspan dx="-2.3">(s)</tspan></text>
<text transform="translate(62.9,974.3) rotate(-90)" x="0" y="0" dx="1.85 0 0 0 0 1.7 0.65 0.3 1.35 0 -1.85 3 0 -7 0 1.65 0 -2.65 1 0 0 0.8 -0.8 1.8 0 -1.8 0 0 0 0">Yaw angle of the vehicle (rad)</text>
</g>
<rect x="446.0" y="109.8" width="576.6" height="363.59999999999997" fill="#fff" stroke="none"/>
<g stroke="#000" fill="none">
<line x1="636.4" y1="473.4" x2="636.4" y2="109.8" stroke-width="1.4" stroke-dasharray="25 23"/>
<line x1="829.5" y1="473.4" x2="829.5" y2="109.8" stroke-width="1.4" stroke-dasharray="25 23"/>
<line x1="446.0" y1="230.9" x2="1022.6" y2="230.9" stroke-width="2.3" stroke-dasharray="25 23"/>
<line x1="446.0" y1="352.5" x2="1022.6" y2="352.5" stroke-width="1.4" stroke-dasharray="25 23"/>
<line x1="446.0" y1="109.0" x2="446.0" y2="474.0" stroke-width="2"/>
<line x1="445.0" y1="109.6" x2="1023.1" y2="109.6" stroke-width="1.5"/>
<line x1="1022.6" y1="109.8" x2="1022.6" y2="474.0" stroke-width="1.4"/>
<line x1="636.4" y1="109.8" x2="636.4" y2="113.8" stroke-width="1.4"/>
<line x1="829.5" y1="109.8" x2="829.5" y2="113.8" stroke-width="1.4"/>
<line x1="1020.1" y1="230.9" x2="1022.6" y2="230.9" stroke-width="2.2"/>
<line x1="1020.1" y1="352.5" x2="1022.6" y2="352.5" stroke-width="1.4"/>
<line x1="446.0" y1="473.4" x2="1022.6" y2="473.4" stroke-width="1.2"/>
</g>
<clipPath id="inclip"><rect x="447" y="100" width="579.3" height="377.8"/></clipPath>
<g fill="none" stroke-width="11" stroke-linejoin="round" clip-path="url(#inclip)" shape-rendering="crispEdges">
<path d="M440.5,151.5 L446.5,162.0 L448.4,165.4 L450.4,168.4 L452.3,171.0 L454.2,173.4 L456.1,175.6 L458.1,177.5 L460.0,179.3 L461.9,181.0 L463.8,182.6 L465.8,184.2 L467.7,185.7 L469.6,187.3 L471.5,189.0 L473.5,190.8 L475.4,192.7 L477.3,194.6 L479.3,196.6 L481.2,198.6 L483.1,200.7 L485.0,202.8 L487.0,205.0 L488.9,207.2 L490.8,209.4 L492.7,211.6 L494.7,213.9 L496.6,216.1 L498.5,218.3 L500.4,220.6 L502.4,222.7 L504.3,224.9 L506.2,227.0 L508.2,229.1 L510.1,231.2 L512.0,233.2 L513.9,235.2 L515.9,237.1 L517.8,239.0 L519.7,240.9 L521.6,242.8 L523.6,244.6 L525.5,246.4 L527.4,248.2 L529.4,249.9 L531.3,251.6 L533.2,253.3 L535.1,255.0 L537.1,256.6 L539.0,258.2 L540.9,259.8 L542.8,261.3 L544.8,262.9 L546.7,264.4 L548.6,265.8 L550.5,267.3 L552.5,268.7 L554.4,270.2 L556.3,271.6 L558.3,272.9 L560.2,274.3 L562.1,275.6 L564.0,276.9 L566.0,278.2 L567.9,279.5 L569.8,280.8 L571.7,282.0 L573.7,283.3 L575.6,284.5 L577.5,285.7 L579.4,286.9 L581.4,288.1 L583.3,289.2 L585.2,290.4 L587.2,291.5 L589.1,292.7 L591.0,293.8 L592.9,294.9 L594.9,296.0 L596.8,297.1 L598.7,298.3 L600.6,299.4 L602.6,300.5 L604.5,301.6 L606.4,302.7 L608.3,303.8 L610.3,304.9 L612.2,306.0 L614.1,307.1 L616.1,308.3 L618.0,309.4 L619.9,310.5 L621.8,311.7 L623.8,312.9 L625.7,314.0 L627.6,315.2 L629.5,316.4 L631.5,317.6 L633.4,318.8 L635.3,319.9 L637.2,321.1 L639.2,322.3 L641.1,323.5 L643.0,324.6 L645.0,325.8 L646.9,326.9 L648.8,328.1 L650.7,329.2 L652.7,330.3 L654.6,331.4 L656.5,332.4 L658.4,333.5 L660.4,334.5 L662.3,335.5 L664.2,336.4 L666.2,337.4 L668.1,338.3 L670.0,339.2 L671.9,340.1 L673.9,340.9 L675.8,341.8 L677.7,342.6 L679.6,343.5 L681.6,344.3 L683.5,345.1 L685.4,345.9 L687.3,346.7 L689.3,347.5 L691.2,348.3 L693.1,349.2 L695.1,350.0 L697.0,350.9 L698.9,351.7 L700.8,352.6 L702.8,353.5 L704.7,354.4 L706.6,355.3 L708.5,356.2 L710.5,357.1 L712.4,358.0 L714.3,359.0 L716.2,360.0 L718.2,360.9 L720.1,361.9 L722.0,362.9 L724.0,363.9 L725.9,365.0 L727.8,366.0 L729.7,367.1 L731.7,368.1 L733.6,369.2 L735.5,370.4 L737.4,371.5 L739.4,372.6 L741.3,373.8 L743.2,374.9 L745.1,376.0 L747.1,377.0 L749.0,378.0 L750.9,378.9 L752.9,379.8 L754.8,380.6 L756.7,381.4 L758.6,382.2 L760.6,383.0 L762.5,383.7 L764.4,384.5 L766.3,385.4 L768.3,386.2 L770.2,387.1 L772.1,387.9 L774.0,388.8 L776.0,389.6 L777.9,390.4 L779.8,391.1 L781.8,391.8 L783.7,392.4 L785.6,393.1 L787.5,393.6 L789.5,394.2 L791.4,394.8 L793.3,395.4 L795.2,396.0 L797.2,396.5 L799.1,397.2 L801.0,397.8 L802.9,398.5 L804.9,399.2 L806.8,399.9 L808.7,400.8 L810.7,401.6 L812.6,402.6 L814.5,403.5 L816.4,404.5 L818.4,405.5 L820.3,406.5 L822.2,407.5 L824.1,408.4 L826.1,409.3 L828.0,410.2 L829.9,411.1 L831.9,412.0 L833.8,412.9 L835.7,413.7 L837.6,414.5 L839.6,415.3 L841.5,416.1 L843.4,416.9 L845.3,417.6 L847.3,418.4 L849.2,419.1 L851.1,419.9 L853.0,420.6 L855.0,421.3 L856.9,422.0 L858.8,422.7 L860.8,423.4 L862.7,424.0 L864.6,424.7 L866.5,425.4 L868.5,426.0 L870.4,426.7 L872.3,427.4 L874.2,428.0 L876.2,428.7 L878.1,429.3 L880.0,430.0 L881.9,430.6 L883.9,431.3 L885.8,432.0 L887.7,432.7 L889.7,433.3 L891.6,434.0 L893.5,434.7 L895.4,435.4 L897.4,436.1 L899.3,436.8 L901.2,437.5 L903.1,438.2 L905.1,439.0 L907.0,439.7 L908.9,440.4 L910.8,441.2 L912.8,441.9 L914.7,442.7 L916.6,443.4 L918.6,444.2 L920.5,444.9 L922.4,445.7 L924.3,446.4 L926.3,447.2 L928.2,447.9 L930.1,448.7 L932.0,449.4 L934.0,450.2 L935.9,450.9 L937.8,451.6 L939.7,452.4 L941.7,453.1 L943.6,453.8 L945.5,454.6 L947.5,455.3 L949.4,456.0 L951.3,456.7 L953.2,457.4 L955.2,458.1 L957.1,458.8 L959.0,459.5 L960.9,460.1 L962.9,460.8 L964.8,461.4 L966.7,462.1 L968.7,462.7 L970.6,463.3 L972.5,463.9 L974.4,464.5 L976.4,465.2 L978.3,465.8 L980.2,466.4 L982.1,467.1 L984.1,467.7 L986.0,468.4 L987.9,469.1 L989.8,469.9 L991.8,470.6 L993.7,471.5 L995.6,472.3 L997.6,473.2 L999.5,474.1 L1000.0,474.4" stroke="#bfbf00" stroke-linecap="round"/>
<path d="M440.5,118.2 L446.5,118.1 L448.4,118.1 L450.4,118.6 L452.3,119.6 L454.2,120.9 L456.1,122.6 L458.1,124.6 L460.0,126.7 L461.9,128.8 L463.8,131.0 L465.8,133.2 L467.7,135.4 L469.6,137.5 L471.5,139.7 L473.5,141.9 L475.4,144.0 L477.3,146.2 L479.3,148.3 L481.2,150.5 L483.1,152.6 L485.0,154.7 L487.0,156.9 L488.9,159.0 L490.8,161.1 L492.7,163.2 L494.7,165.2 L496.6,167.3 L498.5,169.3 L500.4,171.4 L502.4,173.4 L504.3,175.3 L506.2,177.3 L508.2,179.2 L510.1,181.1 L512.0,183.0 L513.9,184.9 L515.9,186.7 L517.8,188.5 L519.7,190.3 L521.6,192.0 L523.6,193.7 L525.5,195.3 L527.4,197.0 L529.4,198.6 L531.3,200.2 L533.2,201.8 L535.1,203.3 L537.1,204.9 L539.0,206.4 L540.9,207.9 L542.8,209.4 L544.8,210.9 L546.7,212.4 L548.6,213.9 L550.5,215.5 L552.5,217.0 L554.4,218.5 L556.3,220.0 L558.3,221.6 L560.2,223.2 L562.1,224.7 L564.0,226.3 L566.0,227.9 L567.9,229.5 L569.8,231.1 L571.7,232.7 L573.7,234.2 L575.6,235.7 L577.5,237.1 L579.4,238.5 L581.4,239.9 L583.3,241.2 L585.2,242.5 L587.2,243.7 L589.1,245.0 L591.0,246.3 L592.9,247.6 L594.9,249.0 L596.8,250.4 L598.7,251.8 L600.6,253.3 L602.6,254.8 L604.5,256.3 L606.4,257.8 L608.3,259.4 L610.3,260.9 L612.2,262.5 L614.1,264.1 L616.1,265.7 L618.0,267.2 L619.9,268.8 L621.8,270.4 L623.8,271.9 L625.7,273.4 L627.6,274.9 L629.5,276.3 L631.5,277.7 L633.4,279.1 L635.3,280.5 L637.2,281.7 L639.2,283.0 L641.1,284.2 L643.0,285.4 L645.0,286.5 L646.9,287.6 L648.8,288.6 L650.7,289.7 L652.7,290.7 L654.6,291.7 L656.5,292.7 L658.4,293.7 L660.4,294.7 L662.3,295.7 L664.2,296.7 L666.2,297.8 L668.1,298.8 L670.0,299.8 L671.9,300.8 L673.9,301.9 L675.8,302.9 L677.7,304.0 L679.6,305.1 L681.6,306.1 L683.5,307.2 L685.4,308.3 L687.3,309.3 L689.3,310.4 L691.2,311.5 L693.1,312.6 L695.1,313.7 L697.0,314.8 L698.9,315.8 L700.8,316.9 L702.8,318.0 L704.7,319.1 L706.6,320.2 L708.5,321.2 L710.5,322.3 L712.4,323.4 L714.3,324.4 L716.2,325.5 L718.2,326.6 L720.1,327.6 L722.0,328.7 L724.0,329.8 L725.9,330.9 L727.8,331.9 L729.7,333.0 L731.7,334.1 L733.6,335.2 L735.5,336.3 L737.4,337.4 L739.4,338.5 L741.3,339.7 L743.2,340.8 L745.1,341.9 L747.1,343.0 L749.0,344.1 L750.9,345.2 L752.9,346.2 L754.8,347.3 L756.7,348.3 L758.6,349.3 L760.6,350.3 L762.5,351.2 L764.4,352.1 L766.3,353.0 L768.3,353.8 L770.2,354.6 L772.1,355.4 L774.0,356.2 L776.0,357.0 L777.9,357.8 L779.8,358.6 L781.8,359.4 L783.7,360.2 L785.6,361.0 L787.5,361.9 L789.5,362.7 L791.4,363.6 L793.3,364.4 L795.2,365.3 L797.2,366.2 L799.1,367.1 L801.0,368.0 L802.9,368.9 L804.9,369.8 L806.8,370.7 L808.7,371.6 L810.7,372.5 L812.6,373.4 L814.5,374.4 L816.4,375.3 L818.4,376.2 L820.3,377.1 L822.2,378.1 L824.1,379.0 L826.1,379.9 L828.0,380.9 L829.9,381.8 L831.9,382.7 L833.8,383.7 L835.7,384.6 L837.6,385.5 L839.6,386.4 L841.5,387.4 L843.4,388.3 L845.3,389.2 L847.3,390.1 L849.2,391.0 L851.1,391.9 L853.0,392.8 L855.0,393.7 L856.9,394.6 L858.8,395.5 L860.8,396.4 L862.7,397.3 L864.6,398.2 L866.5,399.0 L868.5,399.9 L870.4,400.8 L872.3,401.6 L874.2,402.5 L876.2,403.3 L878.1,404.1 L880.0,405.0 L881.9,405.8 L883.9,406.6 L885.8,407.4 L887.7,408.2 L889.7,409.0 L891.6,409.8 L893.5,410.5 L895.4,411.3 L897.4,412.0 L899.3,412.8 L901.2,413.5 L903.1,414.2 L905.1,415.0 L907.0,415.7 L908.9,416.4 L910.8,417.1 L912.8,417.8 L914.7,418.6 L916.6,419.3 L918.6,420.0 L920.5,420.7 L922.4,421.5 L924.3,422.2 L926.3,422.9 L928.2,423.7 L930.1,424.4 L932.0,425.2 L934.0,426.0 L935.9,426.8 L937.8,427.6 L939.7,428.4 L941.7,429.2 L943.6,430.1 L945.5,430.9 L947.5,431.8 L949.4,432.7 L951.3,433.5 L953.2,434.4 L955.2,435.3 L957.1,436.1 L959.0,437.0 L960.9,437.8 L962.9,438.6 L964.8,439.5 L966.7,440.3 L968.7,441.1 L970.6,441.8 L972.5,442.6 L974.4,443.3 L976.4,444.1 L978.3,444.8 L980.2,445.6 L982.1,446.3 L984.1,447.0 L986.0,447.7 L987.9,448.5 L989.8,449.2 L991.8,450.0 L993.7,450.7 L995.6,451.5 L997.6,452.3 L999.5,453.1 L1001.4,453.9 L1003.3,454.8 L1005.3,455.6 L1007.2,456.5 L1009.1,457.4 L1011.0,458.3 L1013.0,459.1 L1014.9,459.8 L1016.8,460.4 L1018.7,460.8 L1020.7,461.0 L1022.6,460.9 L1030.0,460.9" stroke="#0000ff" stroke-linecap="butt"/>
<path d="M440.5,120.5 L446.5,126.5 L448.4,128.4 L450.4,130.4 L452.3,132.6 L454.2,134.7 L456.1,137.0 L458.1,139.4 L460.0,141.8 L461.9,144.3 L463.8,146.8 L465.8,149.4 L467.7,152.0 L469.6,154.7 L471.5,157.4 L473.5,160.1 L475.4,162.9 L477.3,165.6 L479.3,168.4 L481.2,171.2 L483.1,174.0 L485.0,176.7 L487.0,179.5 L488.9,182.2 L490.8,184.9 L492.7,187.7 L494.7,190.4 L496.6,193.1 L498.5,195.8 L500.4,198.5 L502.4,201.1 L504.3,203.6 L506.2,206.2 L508.2,208.7 L510.1,211.3 L512.0,213.7 L513.9,216.2 L515.9,218.6 L517.8,221.1 L519.7,223.4 L521.6,225.8 L523.6,228.1 L525.5,230.4 L527.4,232.7 L529.4,234.9 L531.3,237.1 L533.2,239.3 L535.1,241.4 L537.1,243.5 L539.0,245.5 L540.9,247.5 L542.8,249.2 L544.8,250.9 L546.7,252.4 L548.6,253.8 L550.5,255.2 L552.5,256.7 L554.4,258.1 L556.3,259.6 L558.3,261.1 L560.2,262.6 L562.1,264.4 L564.0,266.2 L566.0,268.0 L567.9,269.8 L569.8,271.6 L571.7,273.4 L573.7,275.3 L575.6,277.2 L577.5,279.3 L579.4,281.5 L581.4,283.6 L583.3,285.7 L585.2,287.9 L587.2,290.0 L589.1,292.2 L591.0,294.1 L592.9,295.8 L594.9,297.6 L596.8,299.3 L598.7,301.0 L600.6,302.7 L602.6,304.3 L604.5,306.0 L606.4,307.6 L608.3,309.2 L610.3,310.8 L612.2,312.4 L614.1,313.9 L616.1,315.4 L618.0,316.9 L619.9,318.4 L621.8,319.8 L623.8,321.2 L625.7,322.6 L627.6,323.9 L629.5,325.2 L631.5,326.4 L633.4,327.7 L635.3,328.8 L637.2,330.0 L639.2,331.1 L641.1,332.2 L643.0,333.3 L645.0,334.4 L646.9,335.4 L648.8,336.5 L650.7,337.5 L652.7,338.6 L654.6,339.7 L656.5,340.8 L658.4,341.8 L660.4,342.9 L662.3,344.0 L664.2,345.0 L666.2,346.0 L668.1,347.0 L670.0,348.0 L671.9,349.0 L673.9,349.9 L675.8,350.8 L677.7,351.7 L679.6,352.5 L681.6,353.3 L683.5,354.1 L685.4,354.9 L687.3,355.7 L689.3,356.4 L691.2,357.2 L693.1,358.0 L695.1,358.8 L697.0,359.7 L698.9,360.6 L700.8,361.6 L702.8,362.7 L704.7,363.8 L706.6,365.1 L708.5,366.4 L710.5,367.8 L712.4,369.3 L714.3,370.8 L716.2,372.2 L718.2,373.6 L720.1,374.9 L722.0,376.0 L724.0,376.9 L725.9,377.8 L727.8,378.6 L729.7,379.4 L731.7,380.1 L733.6,380.9 L735.5,381.6 L737.4,382.5 L739.4,383.4 L741.3,384.3 L743.2,385.1 L745.1,386.0 L747.1,386.8 L749.0,387.6 L750.9,388.2 L752.9,388.9 L754.8,389.5 L756.7,390.1 L758.6,390.7 L760.6,391.4 L762.5,392.2 L764.4,393.1 L766.3,394.2 L768.3,395.4 L770.2,396.6 L772.1,397.9 L774.0,399.0 L776.0,400.1 L777.9,401.1 L779.8,401.8 L781.8,402.3 L783.7,402.7 L785.6,403.0 L787.5,403.3 L789.5,403.6 L791.4,403.9 L793.3,404.3 L795.2,404.9 L797.2,405.6 L799.1,406.5 L801.0,407.4 L802.9,408.4 L804.9,409.4 L806.8,410.4 L808.7,411.4 L810.7,412.4 L812.6,413.4 L814.5,414.3 L816.4,415.2 L818.4,416.1 L820.3,416.9 L822.2,417.7 L824.1,418.5 L826.1,419.3 L828.0,420.1 L829.9,420.9 L831.9,421.6 L833.8,422.4 L835.7,423.1 L837.6,423.8 L839.6,424.6 L841.5,425.3 L843.4,426.1 L845.3,426.8 L847.3,427.5 L849.2,428.2 L851.1,429.0 L853.0,429.7 L855.0,430.4 L856.9,431.1 L858.8,431.8 L860.8,432.6 L862.7,433.3 L864.6,434.0 L866.5,434.7 L868.5,435.4 L870.4,436.1 L872.3,436.8 L874.2,437.5 L876.2,438.2 L878.1,438.9 L880.0,439.6 L881.9,440.3 L883.9,441.0 L885.8,441.7 L887.7,442.4 L889.7,443.0 L891.6,443.7 L893.5,444.4 L895.4,445.1 L897.4,445.8 L899.3,446.4 L901.2,447.1 L903.1,447.8 L905.1,448.5 L907.0,449.1 L908.9,449.8 L910.8,450.5 L912.8,451.1 L914.7,451.8 L916.6,452.5 L918.6,453.1 L920.5,453.8 L922.4,454.5 L924.3,455.1 L926.3,455.8 L928.2,456.4 L930.1,457.1 L932.0,457.8 L934.0,458.4 L935.9,459.1 L937.8,459.7 L939.7,460.4 L941.7,461.0 L943.6,461.7 L945.5,462.3 L947.5,463.0 L949.4,463.6 L951.3,464.3 L953.2,464.9 L955.2,465.6 L957.1,466.2 L959.0,466.8 L960.9,467.5 L962.9,468.1 L964.8,468.8 L966.7,469.4 L968.7,470.1 L970.6,470.7 L972.5,471.4 L974.4,472.0 L976.4,472.6 L978.3,473.3 L980.2,473.9 L981.7,474.4" stroke="#000000" stroke-linecap="round"/>
<path d="M440.5,122.0 L446.5,128.0 L448.4,129.9 L450.4,131.9 L452.3,134.1 L454.2,136.2 L456.1,138.5 L458.1,140.9 L460.0,143.3 L461.9,145.8 L463.8,148.3 L465.8,150.9 L467.7,153.5 L469.6,156.2 L471.5,158.9 L473.5,161.6 L475.4,164.4 L477.3,167.1 L479.3,169.9 L481.2,172.7 L483.1,175.5 L485.0,178.2 L487.0,181.0 L488.9,183.7 L490.8,186.4 L492.7,189.2 L494.7,191.9 L496.6,194.6 L498.5,197.3 L500.4,200.0 L502.4,202.6 L504.3,205.3 L506.2,207.9 L508.2,210.5 L510.1,213.1 L512.0,215.6 L513.9,218.2 L515.9,220.7 L517.8,223.2 L519.7,225.6 L521.6,228.0 L523.6,230.4 L525.5,232.7 L527.4,235.1 L529.4,237.4 L531.3,239.7 L533.2,241.9 L535.1,244.2 L537.1,246.3 L539.0,248.5 L540.9,250.5 L542.8,252.4 L544.8,254.1 L546.7,255.7 L548.6,257.2 L550.5,258.8 L552.5,260.3 L554.4,261.9 L556.3,263.4 L558.3,265.0 L560.2,266.6 L562.1,268.2 L564.0,269.9 L566.0,271.6 L567.9,273.2 L569.8,274.9 L571.7,276.6 L573.7,278.4 L575.6,280.1 L577.5,281.8 L579.4,283.6 L581.4,285.3 L583.3,287.1 L585.2,288.8 L587.2,290.6 L589.1,292.3 L591.0,294.1 L592.9,295.8 L594.9,297.6 L596.8,299.3 L598.7,301.0 L600.6,302.7 L602.6,304.3 L604.5,306.0 L606.4,307.6 L608.3,309.2 L610.3,310.8 L612.2,312.4 L614.1,313.9 L616.1,315.4 L618.0,316.9 L619.9,318.4 L621.8,319.8 L623.8,321.2 L625.7,322.6 L627.6,323.9 L629.5,325.2 L631.5,326.4 L633.4,327.7 L635.3,328.8 L637.2,330.0 L639.2,331.1 L641.1,332.2 L643.0,333.3 L645.0,334.4 L646.9,335.4 L648.8,336.5 L650.7,337.5 L652.7,338.6 L654.6,339.7 L656.5,340.8 L658.4,341.8 L660.4,342.9 L662.3,344.0 L664.2,345.0 L666.2,346.0 L668.1,347.0 L670.0,348.0 L671.9,349.0 L673.9,349.9 L675.8,350.8 L677.7,351.7 L679.6,352.5 L681.6,353.3 L683.5,354.1 L685.4,354.9 L687.3,355.7 L689.3,356.4 L691.2,357.2 L693.1,358.0 L695.1,358.8 L697.0,359.7 L698.9,360.6 L700.8,361.6 L702.8,362.7 L704.7,363.8 L706.6,365.1 L708.5,366.4 L710.5,367.8 L712.4,369.3 L714.3,370.8 L716.2,372.2 L718.2,373.6 L720.1,374.9 L722.0,376.0 L724.0,376.9 L725.9,377.8 L727.8,378.6 L729.7,379.4 L731.7,380.1 L733.6,380.9 L735.5,381.6 L737.4,382.5 L739.4,383.4 L741.3,384.3 L743.2,385.1 L745.1,386.0 L747.1,386.8 L749.0,387.6 L750.9,388.2 L752.9,388.9 L754.8,389.5 L756.7,390.1 L758.6,390.7 L760.6,391.4 L762.5,392.2 L764.4,393.1 L766.3,394.2 L768.3,395.4 L770.2,396.6 L772.1,397.9 L774.0,399.0 L776.0,400.1 L777.9,401.1 L779.8,401.8 L781.8,402.3 L783.7,402.7 L785.6,403.0 L787.5,403.3 L789.5,403.6 L791.4,403.9 L793.3,404.3 L795.2,404.9 L797.2,405.6 L799.1,406.5 L801.0,407.4 L802.9,408.4 L804.9,409.4 L806.8,410.4 L808.7,411.4 L810.7,412.4 L812.6,413.4 L814.5,414.3 L816.4,415.2 L818.4,416.1 L820.3,416.9 L822.2,417.7 L824.1,418.5 L826.1,419.3 L828.0,420.1 L829.9,420.9 L831.9,421.6 L833.8,422.4 L835.7,423.1 L837.6,423.8 L839.6,424.6 L841.5,425.3 L843.4,426.1 L845.3,426.8 L847.3,427.5 L849.2,428.2 L851.1,429.0 L853.0,429.7 L855.0,430.4 L856.9,431.1 L858.8,431.8 L860.8,432.6 L862.7,433.3 L864.6,434.0 L866.5,434.7 L868.5,435.4 L870.4,436.1 L872.3,436.8 L874.2,437.5 L876.2,438.2 L878.1,438.9 L880.0,439.6 L881.9,440.3 L883.9,441.0 L885.8,441.7 L887.7,442.4 L889.7,443.0 L891.6,443.7 L893.5,444.4 L895.4,445.1 L897.4,445.8 L899.3,446.4 L901.2,447.1 L903.1,447.8 L905.1,448.5 L907.0,449.1 L908.9,449.8 L910.8,450.5 L912.8,451.1 L914.7,451.8 L916.6,452.5 L918.6,453.1 L920.5,453.8 L922.4,454.5 L924.3,455.1 L926.3,455.8 L928.2,456.4 L930.1,457.1 L932.0,457.8 L934.0,458.4 L935.9,459.1 L937.8,459.7 L939.7,460.4 L941.7,461.0 L943.6,461.7 L945.5,462.3 L947.5,463.0 L949.4,463.6 L951.3,464.3 L953.2,464.9 L955.2,465.6 L957.1,466.2 L959.0,466.8 L960.9,467.5 L962.9,468.1 L964.8,468.8 L966.7,469.4 L968.7,470.1 L970.6,470.7 L972.5,471.4 L974.4,472.0 L976.4,472.6 L978.3,473.3 L980.2,473.9 L981.7,474.4" stroke="#00ff00" stroke-linecap="round"/>
<path d="M440.5,141.6 L446.5,149.6 L448.4,152.1 L450.4,154.8 L452.3,157.5 L454.2,160.4 L456.1,163.3 L458.1,166.3 L460.0,169.4 L461.9,172.5 L463.8,175.7 L465.8,178.9 L467.7,182.1 L469.6,185.4 L471.5,188.6 L473.5,191.8 L475.4,195.1 L477.3,198.3 L479.3,201.5 L481.2,204.6 L483.1,207.8 L485.0,210.8 L487.0,213.9 L488.9,216.8 L490.8,219.7 L492.7,222.6 L494.7,225.3 L496.6,228.0 L498.5,230.6 L500.4,233.1 L502.4,235.5 L504.3,237.8 L506.2,240.0 L508.2,242.2 L510.1,244.3 L512.0,246.3 L513.9,248.2 L515.9,250.1 L517.8,251.9 L519.7,253.7 L521.6,255.4 L523.6,257.1 L525.5,258.7 L527.4,260.3 L529.4,261.9 L531.3,263.4 L533.2,265.0 L535.1,266.4 L537.1,267.9 L539.0,269.4 L540.9,270.8 L542.8,272.2 L544.8,273.6 L546.7,275.0 L548.6,276.4 L550.5,277.7 L552.5,279.0 L554.4,280.3 L556.3,281.6 L558.3,282.9 L560.2,284.2 L562.1,285.5 L564.0,286.7 L566.0,287.9 L567.9,289.1 L569.8,290.3 L571.7,291.5 L573.7,292.7 L575.6,293.9 L577.5,295.0 L579.4,296.2 L581.4,297.3 L583.3,298.4 L585.2,299.5 L587.2,300.6 L589.1,301.7 L591.0,302.8 L592.9,303.8 L594.9,304.9 L596.8,305.9 L598.7,307.0 L600.6,308.0 L602.6,309.0 L604.5,310.1 L606.4,311.1 L608.3,312.1 L610.3,313.1 L612.2,314.1 L614.1,315.0 L616.1,316.0 L618.0,317.0 L619.9,318.0 L621.8,318.9 L623.8,319.9 L625.7,320.9 L627.6,321.8 L629.5,322.8 L631.5,323.7 L633.4,324.7 L635.3,325.6 L637.2,326.5 L639.2,327.5 L641.1,328.4 L643.0,329.3 L645.0,330.3 L646.9,331.2 L648.8,332.1 L650.7,333.0 L652.7,333.9 L654.6,334.9 L656.5,335.8 L658.4,336.7 L660.4,337.6 L662.3,338.5 L664.2,339.4 L666.2,340.3 L668.1,341.3 L670.0,342.2 L671.9,343.1 L673.9,344.0 L675.8,344.9 L677.7,345.8 L679.6,346.7 L681.6,347.6 L683.5,348.5 L685.4,349.4 L687.3,350.4 L689.3,351.3 L691.2,352.2 L693.1,353.1 L695.1,354.0 L697.0,355.0 L698.9,355.9 L700.8,356.8 L702.8,357.7 L704.7,358.7 L706.6,359.6 L708.5,360.5 L710.5,361.4 L712.4,362.3 L714.3,363.3 L716.2,364.2 L718.2,365.1 L720.1,366.0 L722.0,366.9 L724.0,367.8 L725.9,368.7 L727.8,369.6 L729.7,370.5 L731.7,371.4 L733.6,372.3 L735.5,373.1 L737.4,374.0 L739.4,374.9 L741.3,375.7 L743.2,376.6 L745.1,377.4 L747.1,378.3 L749.0,379.1 L750.9,379.9 L752.9,380.7 L754.8,381.6 L756.7,382.4 L758.6,383.2 L760.6,384.0 L762.5,384.8 L764.4,385.5 L766.3,386.3 L768.3,387.1 L770.2,387.8 L772.1,388.6 L774.0,389.3 L776.0,390.1 L777.9,390.8 L779.8,391.6 L781.8,392.3 L783.7,393.0 L785.6,393.7 L787.5,394.4 L789.5,395.1 L791.4,395.9 L793.3,396.6 L795.2,397.3 L797.2,398.0 L799.1,398.7 L801.0,399.4 L802.9,400.1 L804.9,400.8 L806.8,401.6 L808.7,402.3 L810.7,403.1 L812.6,403.8 L814.5,404.6 L816.4,405.3 L818.4,406.1 L820.3,406.9 L822.2,407.7 L824.1,408.6 L826.1,409.4 L828.0,410.2 L829.9,411.1 L831.9,411.9 L833.8,412.8 L835.7,413.7 L837.6,414.5 L839.6,415.4 L841.5,416.3 L843.4,417.1 L845.3,418.0 L847.3,418.9 L849.2,419.7 L851.1,420.6 L853.0,421.4 L855.0,422.2 L856.9,423.0 L858.8,423.8 L860.8,424.6 L862.7,425.3 L864.6,426.1 L866.5,426.8 L868.5,427.5 L870.4,428.2 L872.3,428.8 L874.2,429.5 L876.2,430.1 L878.1,430.8 L880.0,431.4 L881.9,432.0 L883.9,432.6 L885.8,433.2 L887.7,433.8 L889.7,434.4 L891.6,435.0 L893.5,435.6 L895.4,436.2 L897.4,436.8 L899.3,437.5 L901.2,438.1 L903.1,438.8 L905.1,439.4 L907.0,440.1 L908.9,440.8 L910.8,441.5 L912.8,442.2 L914.7,442.9 L916.6,443.7 L918.6,444.4 L920.5,445.2 L922.4,446.0 L924.3,446.8 L926.3,447.5 L928.2,448.3 L930.1,449.1 L932.0,449.9 L934.0,450.7 L935.9,451.5 L937.8,452.3 L939.7,453.1 L941.7,453.9 L943.6,454.7 L945.5,455.4 L947.5,456.2 L949.4,457.0 L951.3,457.7 L953.2,458.4 L955.2,459.2 L957.1,459.9 L959.0,460.5 L960.9,461.2 L962.9,461.9 L964.8,462.5 L966.7,463.2 L968.7,463.8 L970.6,464.5 L972.5,465.1 L974.4,465.7 L976.4,466.3 L978.3,466.9 L980.2,467.5 L982.1,468.1 L984.1,468.7 L986.0,469.3 L987.9,469.9 L989.8,470.4 L991.8,471.0 L993.7,471.6 L995.6,472.2 L997.6,472.8 L999.5,473.4 L1001.4,474.0 L1002.7,474.4" stroke="#ff0000" stroke-linecap="round"/>
</g>
<g font-size="40px">
<text x="364.19" y="121.6" clip-path="url(#one4)"><tspan font-size="46px" dy="1.43">-</tspan><tspan dx="-1.74" dy="-1.43">0.1</tspan></text>
<text x="364.19" y="242.8"><tspan font-size="46px" dy="1.43">-</tspan><tspan dx="-1.74" dy="-1.43">0.3</tspan></text>
<text x="364.19" y="364.0"><tspan font-size="46px" dy="1.43">-</tspan><tspan dx="-1.74" dy="-1.43">0.5</tspan></text>
<text x="364.19" y="485.2"><tspan font-size="46px" dy="1.43">-</tspan><tspan dx="-1.74" dy="-1.43">0.7</tspan></text>
<text x="418.98" y="519.8">0.5</text>
<text x="608.68" y="519.8" clip-path="url(#one5)">1.5</text>
<text x="800.78" y="519.8">2.5</text>
<text x="994.88" y="519.8">3.5</text>
</g>
<rect x="1187.5" y="44.5" width="405.0" height="336.0" fill="#fff" stroke="#000" stroke-width="1.2" shape-rendering="crispEdges"/>
<g font-size="50px">
<rect x="1212" y="78.0" width="125.2" height="7" fill="#bfbf00"/>
<text x="1350.6" y="101.5" letter-spacing="-0.88">Reference</text>
<rect x="1212" y="143.9" width="125.2" height="7" fill="#0000ff"/>
<text x="1350.9" y="167.9" clip-path="url(#one6)">Case<tspan dx="-2"> 1</tspan></text>
<rect x="1212" y="205.8" width="125.2" height="7" fill="#000000"/>
<text x="1350.9" y="230.4">Case<tspan dx="-2"> 2</tspan></text>
<rect x="1212" y="270.8" width="125.2" height="7" fill="#00ff00"/>
<text x="1350.9" y="294.7">Case<tspan dx="-2"> 3</tspan></text>
<rect x="1212" y="336.8" width="125.2" height="7" fill="#ff0000"/>
<text x="1350.9" y="360.3">Case<tspan dx="-2"> 4</tspan></text>
</g>
</svg>
</body>
</html>
